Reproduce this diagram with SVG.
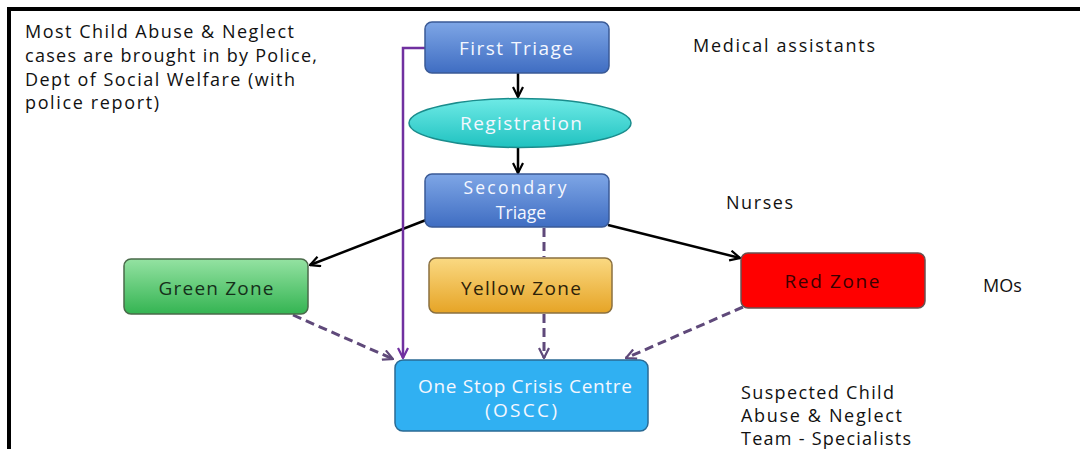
<svg xmlns="http://www.w3.org/2000/svg" width="1080" height="449" viewBox="0 0 1080 449">
<defs>
<linearGradient id="gBlue" x1="0" y1="0" x2="0" y2="1"><stop offset="0" stop-color="#7ea6e6"/><stop offset="1" stop-color="#3f6dc2"/></linearGradient>
<linearGradient id="gTeal" x1="0" y1="0" x2="0" y2="1"><stop offset="0" stop-color="#6eeae6"/><stop offset="1" stop-color="#1fc2c0"/></linearGradient>
<linearGradient id="gGreen" x1="0" y1="0" x2="0" y2="1"><stop offset="0" stop-color="#94e2a2"/><stop offset="1" stop-color="#34b452"/></linearGradient>
<linearGradient id="gYellow" x1="0" y1="0" x2="0" y2="1"><stop offset="0" stop-color="#fad982"/><stop offset="1" stop-color="#e6a426"/></linearGradient>
<marker id="aBlack" viewBox="0 0 12 12" refX="11" refY="6" markerWidth="12" markerHeight="12" markerUnits="userSpaceOnUse" orient="auto"><path d="M1,1 L11,6 L1,11" fill="none" stroke="#000" stroke-width="2.2"/></marker>
<marker id="aPurple" viewBox="0 0 12 12" refX="11" refY="6" markerWidth="12" markerHeight="12" markerUnits="userSpaceOnUse" orient="auto"><path d="M1,1 L11,6 L1,11" fill="none" stroke="#7030a0" stroke-width="2.2"/></marker>
<marker id="aDash" viewBox="0 0 12 12" refX="11" refY="6" markerWidth="12" markerHeight="12" markerUnits="userSpaceOnUse" orient="auto"><path d="M1,1 L11,6 L1,11" fill="none" stroke="#5f497a" stroke-width="2.2"/></marker>
</defs>
<style>
text{font-family:"Open Sans","Liberation Sans",sans-serif;}
.note{font-size:18px;fill:#111;}
.lbl{font-size:19px;text-anchor:middle;}
.sm{font-size:17.5px;}
.w{fill:#f4f7ff;}
.solid{fill:none;stroke:#000;stroke-width:2.5;}
.purple{fill:none;stroke:#7030a0;stroke-width:2.5;}
.dash{fill:none;stroke:#5f497a;stroke-width:3;stroke-dasharray:9 5;}
</style>
<rect x="0" y="0" width="1080" height="449" fill="#fff"/>
<g id="frame" fill="none" stroke="#000" stroke-width="4">
<path d="M9,449 L9,9 L1080,9"/>
</g>
<g id="notes">
<text class="note" x="25" y="38" textLength="269">Most Child Abuse &amp; Neglect</text>
<text class="note" x="25" y="62" textLength="292">cases are brought in by Police,</text>
<text class="note" x="25" y="86" textLength="270">Dept of Social Welfare (with</text>
<text class="note" x="25" y="109" textLength="134">police report)</text>
<text class="note" x="693" y="52" textLength="182">Medical assistants</text>
<text class="note" x="726" y="209" textLength="67">Nurses</text>
<text class="note" x="983" y="292">MOs</text>
<text class="note" x="741" y="399" textLength="153">Suspected Child</text>
<text class="note" x="741" y="422" textLength="161">Abuse &amp; Neglect</text>
<text class="note" x="741" y="445" textLength="170">Team - Specialists</text>
</g>
<g id="connectors">
<path class="solid" d="M518,73 L518,97" marker-end="url(#aBlack)"/>
<path class="solid" d="M518,147 L518,173" marker-end="url(#aBlack)"/>
<path class="solid" d="M426,220 L310,265" marker-end="url(#aBlack)"/>
<path class="solid" d="M608,225 L740,258" marker-end="url(#aBlack)"/>
<path class="purple" d="M425,48 L403,48 L403,358" marker-end="url(#aPurple)"/>
<path class="dash" d="M544,228 L544,257"/>
<path class="dash" d="M544,314 L544,358" marker-end="url(#aDash)"/>
<path class="dash" d="M293,315 L393,359" marker-end="url(#aDash)"/>
<path class="dash" d="M743,307 L626,358" marker-end="url(#aDash)"/>
</g>
<g id="first-triage">
<rect x="425" y="22" width="184" height="51" rx="7" fill="url(#gBlue)" stroke="#3a5a96" stroke-width="1.5"/>
<text class="lbl w" x="516" y="55" textLength="114">First Triage</text>
</g>
<g id="registration">
<ellipse cx="520" cy="123" rx="111" ry="24.5" fill="url(#gTeal)" stroke="#1a8c8c" stroke-width="1.5"/>
<text class="lbl w" x="521" y="130" textLength="122">Registration</text>
</g>
<g id="secondary-triage">
<rect x="425" y="174" width="184" height="53" rx="7" fill="url(#gBlue)" stroke="#3a5a96" stroke-width="1.5"/>
<text class="lbl sm w" x="515" y="194" textLength="103">Secondary</text>
<text class="lbl sm w" x="521" y="219">Triage</text>
</g>
<g id="green-zone">
<rect x="124" y="259" width="184" height="55" rx="7" fill="url(#gGreen)" stroke="#4a6a4a" stroke-width="1.5"/>
<text class="lbl" x="216" y="295" fill="#15301a" textLength="115">Green Zone</text>
</g>
<g id="yellow-zone">
<rect x="429" y="258" width="183" height="55" rx="7" fill="url(#gYellow)" stroke="#8a7040" stroke-width="1.5"/>
<text class="lbl" x="521" y="295" fill="#2e2208" textLength="120">Yellow Zone</text>
</g>
<g id="red-zone">
<rect x="741" y="253" width="184" height="55" rx="7" fill="#ff0000" stroke="#6a5050" stroke-width="1.5"/>
<text class="lbl" x="832" y="288" fill="#3a0000" textLength="95">Red Zone</text>
</g>
<g id="oscc">
<rect x="395" y="360" width="253" height="71" rx="8" fill="#30b0f2" stroke="#2a6a94" stroke-width="1.5"/>
<text class="lbl w" x="525" y="393" textLength="214">One Stop Crisis Centre</text>
<text class="lbl w" x="521" y="417" textLength="72">(OSCC)</text>
</g>
</svg>
